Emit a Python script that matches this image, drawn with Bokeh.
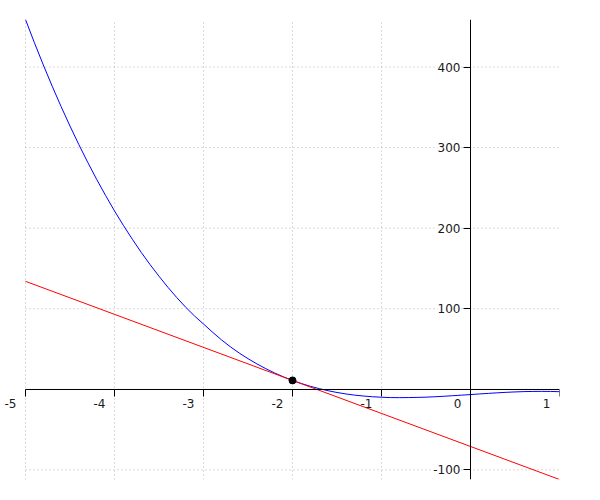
from bokeh.plotting import figure
from bokeh.models import (Range1d, FixedTicker, CustomJSTickFormatter, LabelSet,
                          ColumnDataSource)
from bokeh.core.properties import value
from bokeh.embed import file_html
from bokeh.resources import INLINE

# ---- data ----
curve_x = [-5.0, -4.9, -4.8, -4.7, -4.6, -4.5, -4.4, -4.3, -4.2, -4.1,
           -4.0, -3.9, -3.8, -3.7, -3.6, -3.5, -3.4, -3.3, -3.2, -3.1,
           -3.0, -2.9, -2.8, -2.7, -2.6, -2.5, -2.4, -2.3, -2.2, -2.1,
           -2.0, -1.9, -1.8, -1.7, -1.6, -1.5, -1.4, -1.3, -1.2, -1.1,
           -1.0, -0.9, -0.8, -0.7, -0.6, -0.5, -0.4, -0.3, -0.2, -0.1,
           0.0, 0.1, 0.2, 0.3, 0.4, 0.5, 0.6, 0.7, 0.8, 0.9, 1.0]
curve_y = [459.0, 430.2, 402.6, 376.2, 350.9, 326.7, 303.6, 281.5, 260.5, 240.5,
           221.4, 203.4, 186.3, 170.0, 154.7, 140.3, 126.6, 113.8, 101.8, 90.9,
           81.0, 71.0, 61.5, 52.9, 45.1, 38.0, 31.5, 25.6, 20.2, 15.3,
           11.0, 7.1, 3.7, 0.8, -1.8, -4.0, -5.8, -7.3, -8.4, -9.3,
           -9.9, -10.3, -10.4, -10.3, -10.1, -9.8, -9.3, -8.7, -8.0, -7.3,
           -6.6, -5.8, -5.1, -4.4, -3.8, -3.3, -2.9, -2.7, -2.6, -2.7, -3.0]
tangent_x = [-5.0, 1.0]
tangent_y = [134.0, -112.0]
point_x = [-2.0]
point_y = [11.0]

x_ticks = [-5, -4, -3, -2, -1, 0, 1]
x_tick_labels = ["-5", "-4", "-3", "-2", "-1", "0", "1"]
y_ticks = [-100, 0, 100, 200, 300, 400]
y_label_values = [-100, 100, 200, 300, 400]
y_label_texts = ["-100", "100", "200", "300", "400"]

FONT = "DejaVu Sans"
TEXT_COLOR = "#1a1a1a"
GRID_COLOR = "#b5b5b5"

x_lo, x_hi = x_ticks[0], x_ticks[-1]
# a little room left of x = -5 so that its tick label is inside the frame
p = figure(width=592, height=492, frame_width=556, frame_height=460,
           min_border_left=3, min_border_right=33,
           min_border_top=19, min_border_bottom=13,
           x_range=Range1d(x_lo - 22 / 89.0, x_hi), y_range=Range1d(-112, 459),
           output_backend="svg", toolbar_location=None)
p.outline_line_color = None
p.background_fill_color = "white"
p.border_fill_color = "white"

blank = CustomJSTickFormatter(code="return ''")
for ax, ticks in ((p.xaxis[0], x_ticks), (p.yaxis[0], y_ticks)):
    ax.fixed_location = 0
    ax.ticker = FixedTicker(ticks=ticks, minor_ticks=[])
    ax.formatter = blank
    ax.major_tick_out = 7
    ax.major_tick_in = 0
    ax.minor_tick_out = 0
    ax.minor_tick_in = 0
    ax.axis_line_color = "black"
    ax.major_tick_line_color = "black"
    ax.axis_line_width = 1
p.xaxis[0].bounds = (x_lo, x_hi)

# vertical grid lines from the library's grid
p.xgrid[0].grid_line_color = GRID_COLOR
p.xgrid[0].grid_line_dash = "1 3"
p.xgrid[0].grid_line_width = 1
# horizontal grid lines only across the x data span
p.ygrid[0].visible = False
p.segment(x0=[x_lo] * len(y_ticks), x1=[x_hi] * len(y_ticks),
          y0=y_ticks, y1=y_ticks, line_color=GRID_COLOR,
          line_dash="1 3", line_width=1, level="underlay")

p.line(curve_x, curve_y, line_color="blue", line_width=1)
p.line(tangent_x, tangent_y, line_color="red", line_width=1)
p.scatter(point_x, point_y, size=7, fill_color="black", line_color="black")

xsrc = ColumnDataSource(dict(x=x_ticks, y=[0] * len(x_ticks), t=x_tick_labels))
p.add_layout(LabelSet(x="x", y="y", text="t", source=xsrc,
                      x_offset=-9, y_offset=-10,
                      text_align="right", text_baseline="top",
                      text_font=value(FONT), text_font_size="12px",
                      text_color=TEXT_COLOR))

ysrc = ColumnDataSource(dict(x=[0] * len(y_label_values), y=y_label_values,
                             t=y_label_texts))
p.add_layout(LabelSet(x="x", y="y", text="t", source=ysrc,
                      x_offset=-10, y_offset=0,
                      text_align="right", text_baseline="middle",
                      text_font=value(FONT), text_font_size="12px",
                      text_color=TEXT_COLOR,
                      background_fill_color="white"))

open("out.html", "w").write(file_html(p, INLINE))
